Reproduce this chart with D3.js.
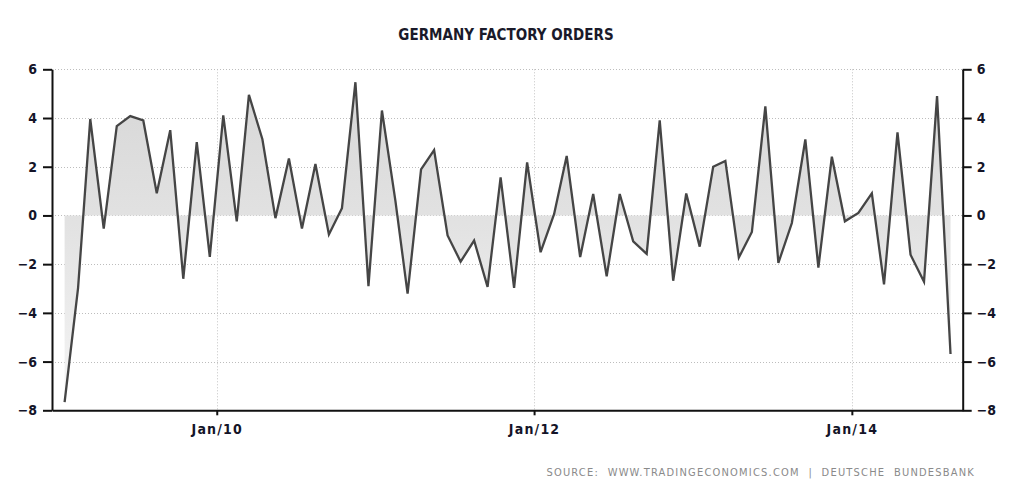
<!DOCTYPE html>
<html>
<head>
<meta charset="utf-8">
<script src="https://cdn.jsdelivr.net/npm/d3@7"></script>
<style>
  html, body { margin: 0; padding: 0; background: #ffffff; }
  svg { display: block; }
  text { font-family: "DejaVu Sans Condensed", "DejaVu Sans", sans-serif; }
</style>
</head>
<body>
<svg id="chart" width="1014" height="501"></svg>
<script>
// ---- data ----
const title = "GERMANY FACTORY ORDERS";
const sourceText = "SOURCE:  WWW.TRADINGECONOMICS.COM  |  DEUTSCHE  BUNDESBANK";
const firstMonth = [2009, 0];   // Jan 2009
const lastMonth = [2014, 7];    // Aug 2014
const values = [
  -7.66, -2.97, 3.96, -0.54, 3.67, 4.08, 3.90, 0.91, 3.50, -2.60, 3.01, -1.70,
   4.11, -0.24, 4.95, 3.13, -0.11, 2.34, -0.54, 2.11, -0.78, 0.30, 5.47, -2.90,
   4.31, 0.60, -3.21, 1.89, 2.68, -0.82, -1.90, -1.03, -2.93, 1.56, -2.97, 2.18,
  -1.51, 0.05, 2.44, -1.71, 0.88, -2.50, 0.88, -1.06, -1.58, 3.90, -2.68, 0.90,
  -1.28, 2.00, 2.24, -1.73, -0.68, 4.48, -1.95, -0.31, 3.12, -2.14, 2.41, -0.24,
   0.10, 0.91, -2.83, 3.41, -1.61, -2.72, 4.90, -5.69
];
const yTicks = [6, 4, 2, 0, -2, -4, -6, -8];
const xTickYears = [2010, 2012, 2014];
const xTickLabels = ["Jan/10", "Jan/12", "Jan/14"];

// ---- build ----
const months = d3.timeMonth.range(new Date(firstMonth[0], firstMonth[1], 1),
                                  new Date(lastMonth[0], lastMonth[1] + 1, 1));
const data = months.map((m, i) => ({ date: d3.timeDay.offset(m, 15), value: values[i] }));
const xTickDates = xTickYears.map(y => new Date(y, 0, 1));

const svg = d3.select("#chart");
const L = 52, R = 962.7, T = 69.3, B = 410.3;

const x = d3.scaleTime()
  .domain([new Date(2008, 11, 18), new Date(2014, 8, 13)])
  .range([L, R]);
const y = d3.scaleLinear().domain([-8, 6]).range([B, T]);

// gradient for the area
const defs = svg.append("defs");
const grad = defs.append("linearGradient")
  .attr("id", "areaGrad").attr("gradientUnits", "userSpaceOnUse")
  .attr("x1", 0).attr("x2", 0).attr("y1", y(6)).attr("y2", y(-8));
grad.append("stop").attr("offset", "0%").attr("stop-color", "#d6d6d6");
grad.append("stop").attr("offset", "45%").attr("stop-color", "#e2e2e2");
grad.append("stop").attr("offset", "100%").attr("stop-color", "#f6f6f6");

// gridlines
svg.append("g").selectAll("line.h").data(yTicks.filter(v => v !== -8)).join("line")
  .attr("x1", L).attr("x2", R)
  .attr("y1", d => Math.round(y(d)) + 0.5).attr("y2", d => Math.round(y(d)) + 0.5)
  .attr("stroke", "#bdbdbd").attr("stroke-width", 1).attr("stroke-dasharray", "1,2");
svg.append("g").selectAll("line.v").data(xTickDates).join("line")
  .attr("x1", d => Math.round(x(d)) + 0.5).attr("x2", d => Math.round(x(d)) + 0.5)
  .attr("y1", T).attr("y2", B)
  .attr("stroke", "#c4c4c4").attr("stroke-width", 1).attr("stroke-dasharray", "1,2");

// area and line
const area = d3.area().x(d => x(d.date)).y0(y(0)).y1(d => y(d.value));
svg.append("path").datum(data).attr("d", area).attr("fill", "url(#areaGrad)");
const line = d3.line().x(d => x(d.date)).y(d => y(d.value));
svg.append("path").datum(data).attr("d", line)
  .attr("fill", "none").attr("stroke", "#454545").attr("stroke-width", 2.3)
  .attr("stroke-linejoin", "miter");

// axes
const fontSize = "14px";
const gl = svg.append("g").attr("transform", `translate(${L},0)`)
  .call(d3.axisLeft(y).tickValues(yTicks).tickFormat(d3.format("d")).tickSize(9).tickSizeOuter(0).tickPadding(6));
const gr = svg.append("g").attr("transform", `translate(${R},0)`)
  .call(d3.axisRight(y).tickValues(yTicks).tickFormat(d3.format("d")).tickSize(9).tickSizeOuter(0).tickPadding(5));
const gb = svg.append("g").attr("transform", `translate(0,${B})`)
  .call(d3.axisBottom(x).tickValues(xTickDates).tickFormat((d, i) => xTickLabels[i]).tickSize(5).tickSizeOuter(0).tickPadding(9));
[gl, gr, gb].forEach(g => {
  g.select(".domain").attr("stroke", "#111").attr("stroke-width", 2);
  g.selectAll(".tick line").attr("stroke", "#111").attr("stroke-width", 2);
  g.selectAll("text").attr("fill", "#141428").style("font-size", fontSize)
    .style("font-weight", "bold")
    .style("font-family", '"DejaVu Sans Condensed", "DejaVu Sans", sans-serif');
});
gb.selectAll("text").attr("letter-spacing", "1.2px");

// title
svg.append("text").attr("x", 506).attr("y", 40).attr("text-anchor", "middle")
  .attr("fill", "#1a1a2a").style("font-size", "15px").style("font-weight", "bold").text(title);

// source
svg.append("text").attr("x", 975).attr("y", 476).attr("text-anchor", "end")
  .attr("fill", "#8a8a8a").style("font-size", "11px").attr("letter-spacing", "1.2px")
  .style("white-space", "pre").attr("xml:space", "preserve").text(sourceText);
</script>
</body>
</html>
